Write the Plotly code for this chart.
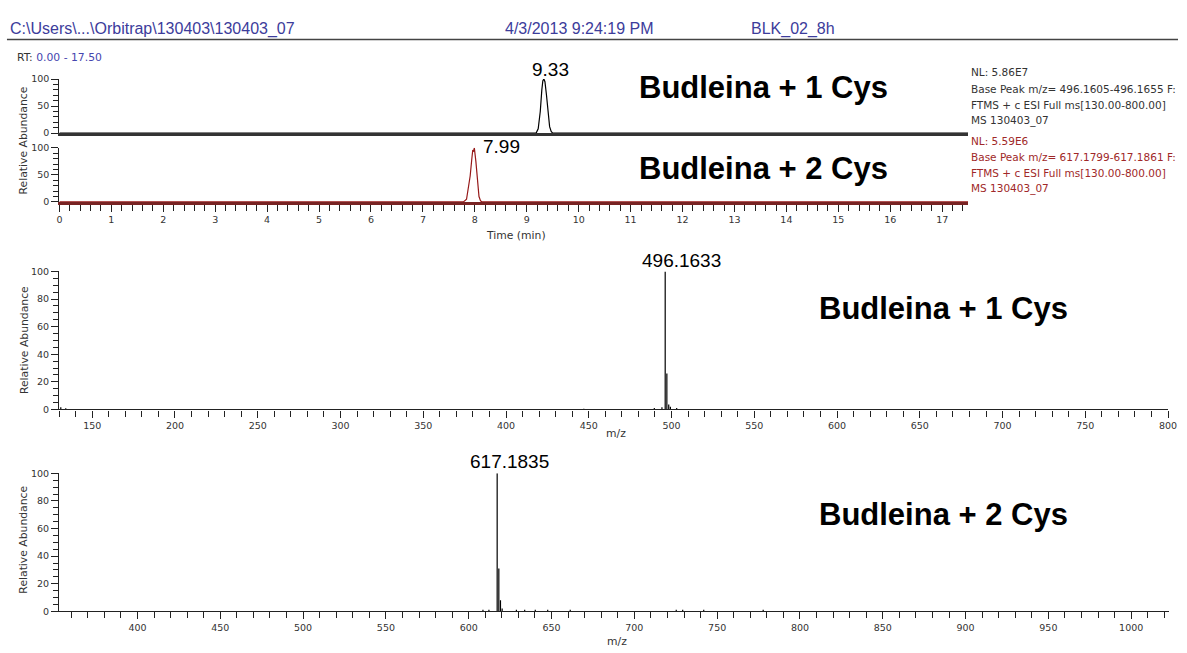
import plotly.graph_objects as go

# ---- chromatogram traces (retention time in min, relative abundance %) ----
rt_cys1 = [0.0, 9.18, 9.22, 9.26, 9.29, 9.31, 9.33, 9.35, 9.38, 9.41, 9.44, 9.47, 9.50, 17.5]
ab_cys1 = [0, 0, 8, 40, 80, 97, 100, 95, 70, 35, 12, 3, 0, 0]
rt_cys2 = [0.0, 7.78, 7.84, 7.88, 7.91, 7.94, 7.96, 7.975, 7.99, 8.02, 8.05, 8.08, 8.11, 8.14, 17.5]
ab_cys2 = [0, 0, 5, 30, 48, 78, 96, 93, 100, 75, 35, 10, 2, 0, 0]
rt_apex = [9.33, 7.99]

# ---- centroid mass spectra (m/z, relative abundance %) ----
mz_cys1 = [131.0, 134.0, 447.0, 489.6, 494.2, 496.1633, 497.166, 498.3, 499.3, 503.1]
int_cys1 = [1.5, 0.8, 0.5, 1.0, 1.5, 100, 26, 3.5, 2.0, 1.0]
mz_cys2 = [608.6, 612.2, 617.1835, 618.187, 619.18, 620.18, 628.8, 633.8, 640.2, 647.7,
           661.3, 725.3, 729.2, 741.9, 777.8]
int_cys2 = [1.2, 1.2, 100, 31, 8, 2, 1.2, 1.2, 1.2, 1.2, 1.2, 1.2, 1.2, 1.2, 1.2]

labels = ["Budleina + 1 Cys", "Budleina + 2 Cys"]
nl_text = [
    ["NL: 5.86E7", "Base Peak m/z= 496.1605-496.1655 F:",
     "FTMS + c ESI Full ms[130.00-800.00]", "MS 130403_07"],
    ["NL: 5.59E6", "Base Peak m/z= 617.1799-617.1861 F:",
     "FTMS + c ESI Full ms[130.00-800.00]", "MS 130403_07"],
]

W, H = 1187, 653
SMALL = "DejaVu Sans"
MAIN = "Liberation Sans, Arial, sans-serif"
INK = "#222222"
BLUE = "rgb(60,60,155)"
DARKRED = "rgb(160,40,40)"


def px(x):
    return x / W


def py(y):
    return 1 - y / H


def sticks(mz, inten):
    xs, ys = [], []
    for m, v in zip(mz, inten):
        xs += [m, m, None]
        ys += [0, v, None]
    return xs, ys


fig = go.Figure()

fig.add_trace(go.Scatter(x=rt_cys1, y=ab_cys1, mode="lines", xaxis="x", yaxis="y",
                         line=dict(color="black", width=1.2), hoverinfo="skip"))
fig.add_trace(go.Scatter(x=rt_cys2, y=ab_cys2, mode="lines", xaxis="x2", yaxis="y2",
                         line=dict(color="rgb(150,25,25)", width=1.2), hoverinfo="skip"))
sx1, sy1 = sticks(mz_cys1, int_cys1)
fig.add_trace(go.Scatter(x=sx1, y=sy1, mode="lines", xaxis="x3", yaxis="y3",
                         line=dict(color="black", width=1.2), hoverinfo="skip"))
sx2, sy2 = sticks(mz_cys2, int_cys2)
fig.add_trace(go.Scatter(x=sx2, y=sy2, mode="lines", xaxis="x4", yaxis="y4",
                         line=dict(color="black", width=1.2), hoverinfo="skip"))

tickfont = dict(family=SMALL, size=9.5, color="#333333")


def yaxis_cfg(dom, major, minor):
    return dict(domain=dom, range=[0, 100], showgrid=False, zeroline=False,
                showline=True, linecolor=INK, linewidth=1.3,
                ticks="outside", ticklen=7, tickwidth=1.2, tickcolor=INK,
                tick0=0, dtick=major, tickfont=tickfont,
                minor=dict(ticks="outside", ticklen=5, tickwidth=1, tickcolor=INK, dtick=minor),
                fixedrange=True)


def xaxis_cfg(dom, rng, anchor, major, minor, labels=True, lc=INK, lw=1.3):
    cfg = dict(domain=dom, range=rng, anchor=anchor, showgrid=False, zeroline=False,
               showline=True, linecolor=lc, linewidth=lw, fixedrange=True)
    if labels:
        cfg.update(ticks="outside", ticklen=7, tickwidth=1.2, tickcolor=INK,
                   tick0=0, dtick=major, tickfont=tickfont,
                   minor=dict(ticks="outside", ticklen=6, tickwidth=1, tickcolor=INK,
                              dtick=minor, tick0=0))
    else:
        cfg.update(ticks="", showticklabels=False)
    return cfg


chrom_x = [px(57), px(975)]
fig.update_layout(
    width=W, height=H, margin=dict(l=0, r=0, t=0, b=0),
    paper_bgcolor="white", plot_bgcolor="white", showlegend=False,
    xaxis=xaxis_cfg(chrom_x, [0, 17.5], "y", 1, 0.2, labels=False, lc="#333333", lw=3),
    yaxis=yaxis_cfg([py(129.3), py(74.3)], 50, 10) | dict(anchor="x"),
    xaxis2=xaxis_cfg(chrom_x, [0, 17.5], "y2", 1, 0.2, lc="rgb(120,35,35)", lw=3),
    yaxis2=yaxis_cfg([py(199.3), py(144.3)], 50, 10) | dict(anchor="x2"),
    xaxis3=xaxis_cfg([px(56.7), px(1177)], [130, 800], "y3", 50, 10),
    yaxis3=yaxis_cfg([py(410.3), py(270)], 20, 5) | dict(anchor="x3"),
    xaxis4=xaxis_cfg([px(56.7), px(1177.7)], [352.7, 1022.7], "y4", 50, 10),
    yaxis4=yaxis_cfg([py(615.7), py(475.3)], 20, 5) | dict(anchor="x4"),
)

ann = []

# header line and texts
fig.add_shape(type="line", xref="paper", yref="paper", x0=px(4), x1=1, y0=py(34), y1=py(34),
              line=dict(color="#444444", width=1.5))
hfont = dict(family=MAIN, size=16, color=BLUE)
ann.append(dict(text="C:\\Users\\...\\Orbitrap\\130403\\130403_07", x=px(5), y=py(23),
                xanchor="left", yanchor="middle", font=hfont))
ann.append(dict(text="4/3/2013 9:24:19 PM", x=px(505), y=py(23),
                xanchor="left", yanchor="middle", font=hfont))
ann.append(dict(text="BLK_02_8h", x=px(754), y=py(23),
                xanchor="left", yanchor="middle", font=hfont))
ann.append(dict(text="RT: <span style='color:rgb(70,70,175)'>0.00 - 17.50</span>",
                x=px(12), y=py(52.3), xanchor="left", yanchor="middle",
                font=dict(family=SMALL, size=10.8, color="#333333")))

# axis titles
tfont = dict(family=SMALL, size=10.8, color="#333333")
for yc in (137, 340, 543):
    ann.append(dict(text="Relative Abundance", x=px(21), y=py(yc), textangle=-90,
                    xanchor="center", yanchor="middle", font=tfont))
ann.append(dict(text="Time (min)", x=px(518), y=py(233), xanchor="center", yanchor="middle",
                font=tfont))
ann.append(dict(text="m/z", x=px(619), y=py(435), xanchor="center", yanchor="middle", font=tfont))
ann.append(dict(text="m/z", x=px(620), y=py(646), xanchor="center", yanchor="middle", font=tfont))

# peak labels
pfont = dict(family=MAIN, size=19, color="black")
ann.append(dict(text=f"{rt_apex[0]:.2f}", x=rt_apex[0], y=100, xref="x", yref="y",
                xanchor="center", yanchor="bottom", xshift=7, yshift=-3, font=pfont))
ann.append(dict(text=f"{rt_apex[1]:.2f}", x=rt_apex[1], y=100, xref="x2", yref="y2",
                xanchor="left", yanchor="middle", xshift=7, yshift=1, font=pfont))
ann.append(dict(text=f"{mz_cys1[5]:.4f}", x=mz_cys1[5], y=int_cys1[5], xref="x3", yref="y3",
                xanchor="center", yanchor="bottom", xshift=16, yshift=-2, font=pfont))
ann.append(dict(text=f"{mz_cys2[2]:.4f}", x=mz_cys2[2], y=int_cys2[2], xref="x4", yref="y4",
                xanchor="center", yanchor="bottom", xshift=12, yshift=-1, font=pfont))

# compound labels
bfont = dict(family=MAIN, size=31, color="black")
for (xc, yc), lab in zip([(768, 83), (768, 165), (950, 308), (950, 517)], labels * 2):
    ann.append(dict(text=f"<b>{lab}</b>", x=px(xc), y=py(yc), xanchor="center",
                    yanchor="middle", font=bfont))

# scan filter info beside the chromatograms
ys_info = [[67, 84, 100.5, 116.5], [137, 153.3, 169.5, 185.5]]
for lines_, ys_, col in zip(nl_text, ys_info, ["#333333", DARKRED]):
    for t, yv in zip(lines_, ys_):
        ann.append(dict(text=t, x=px(976), y=py(yv), xanchor="left", yanchor="middle",
                        font=dict(family=SMALL, size=10.5, color=col)))

for a in ann:
    a.setdefault("xref", "paper")
    a.setdefault("yref", "paper")
    a["showarrow"] = False
fig.update_layout(annotations=ann)

fig.write_html("out.html")
